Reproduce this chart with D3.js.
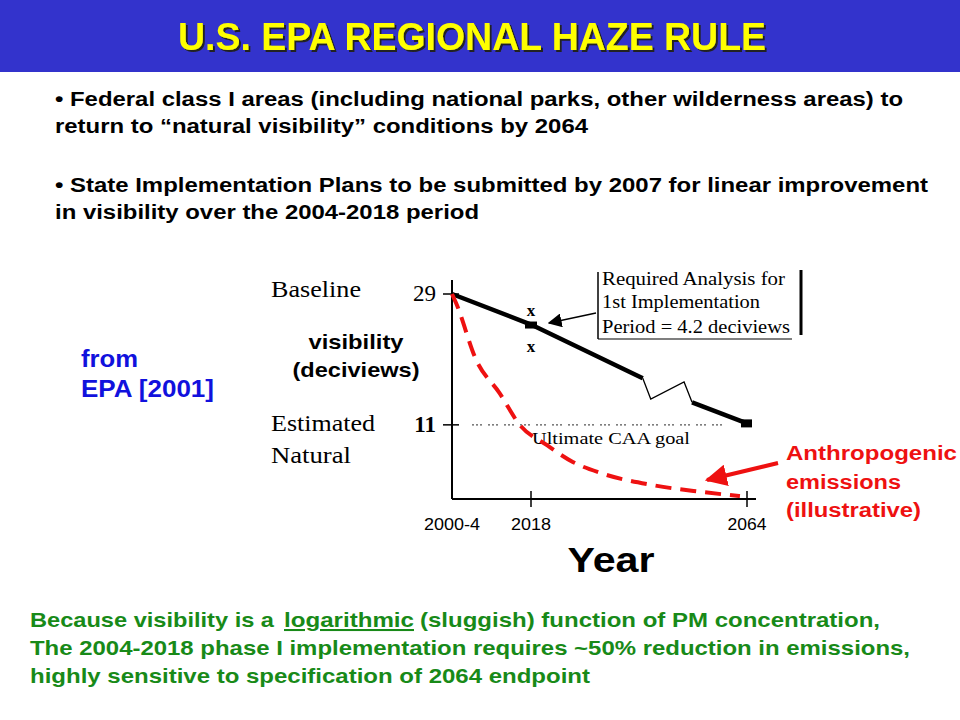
<!DOCTYPE html>
<html>
<head>
<meta charset="utf-8">
<script src="https://cdn.jsdelivr.net/npm/d3@7"></script>
<style>
  body { margin: 0; background: #fff; }
  svg { display: block; }
</style>
</head>
<body>
<svg id="slide" width="960" height="720"></svg>
<script>
// data
const glideYears = [2004, 2018, 2041.8];
const glideDv = [29, 24.8, 17.4];
const zigYears = [2041.8, 2043.5, 2050.6, 2052.3];
const zigDv = [17.4, 14.55, 16.9, 14.1];
const tailYears = [2052.3, 2064];
const tailDv = [14.1, 11.2];
const emisYears = [2004, 2004.7, 2008.3, 2012.4, 2016, 2021.4, 2026.9, 2032.7, 2044, 2054, 2062.5];
const emisDv = [29, 27.8, 19.9, 15.4, 11, 8.2, 5.9, 4.4, 2.7, 1.8, 1.2];
const yTicks = [29, 11];
const xTicks = [2018, 2064];
const xLabelYears = [2004, 2018, 2064];
const xTickLabels = ["2000-4", "2018", "2064"];
const goalDv = 11;

const svg = d3.select("#slide");
const sans = "Liberation Sans, Arial, sans-serif";
const serif = "Liberation Serif, Times New Roman, serif";

const defs = svg.append("defs");
const shadow = defs.append("filter").attr("id", "shadow").attr("x", "-5%").attr("y", "-20%").attr("width", "110%").attr("height", "150%");
shadow.append("feDropShadow").attr("dx", 2).attr("dy", 2).attr("stdDeviation", 0.6).attr("flood-color", "#222");

// header band
svg.append("rect").attr("x", 0).attr("y", 0).attr("width", 960).attr("height", 72).attr("fill", "#3333cc");
svg.append("text").attr("x", 472).attr("y", 50).attr("text-anchor", "middle")
  .attr("font-family", "Liberation Sans Narrow, " + sans).attr("font-weight", "bold")
  .attr("font-size", 38).attr("fill", "#ffff00").attr("textLength", 588).attr("lengthAdjust", "spacingAndGlyphs")
  .attr("filter", "url(#shadow)")
  .text("U.S. EPA REGIONAL HAZE RULE");

// bullets
const bullets = [
  ["• Federal class I areas (including national parks, other wilderness areas) to", 106, 848],
  ["return to \u201cnatural visibility\u201d conditions by 2064", 133, 533],
  ["• State Implementation Plans to be submitted by 2007 for linear improvement", 192, 873],
  ["in visibility over the 2004-2018 period", 219, 424]
];
svg.selectAll("text.bullet").data(bullets).join("text")
  .attr("class", "bullet")
  .attr("x", 55).attr("y", d => d[1])
  .attr("font-family", sans).attr("font-weight", "bold").attr("font-size", 19.5)
  .attr("textLength", d => d[2]).attr("lengthAdjust", "spacingAndGlyphs")
  .text(d => d[0]);

// scales (the figure's year axis is schematic, so piecewise)
const x = d3.scaleLinear().domain([2004, 2018, 2064]).range([452, 531, 747]);
const y = d3.scaleLinear().domain([0.8, 29]).range([499, 294]);

const g = svg.append("g");

// axes
g.append("line").attr("x1", 452).attr("x2", 452).attr("y1", 280).attr("y2", y(0.8))
  .attr("stroke", "#000").attr("stroke-width", 2);
g.append("line").attr("x1", 452).attr("x2", 756).attr("y1", y(0.8)).attr("y2", y(0.8))
  .attr("stroke", "#000").attr("stroke-width", 2);

g.selectAll("line.ytick").data(yTicks).join("line")
  .attr("x1", 443).attr("x2", 459).attr("y1", d => y(d)).attr("y2", d => y(d))
  .attr("stroke", "#000").attr("stroke-width", 1.5);
g.selectAll("text.ytick").data(yTicks).join("text")
  .attr("x", 436).attr("y", d => y(d) + 7).attr("text-anchor", "end")
  .attr("font-family", serif).attr("font-size", 23).attr("font-weight", (d, i) => i ? "bold" : "normal")
  .text(d => d);

g.selectAll("line.xtick").data(xTicks).join("line")
  .attr("x1", d => x(d)).attr("x2", d => x(d)).attr("y1", y(0.8) - 8).attr("y2", y(0.8) + 8)
  .attr("stroke", "#000").attr("stroke-width", 1.5);
g.selectAll("text.xtick").data(xLabelYears).join("text")
  .attr("x", d => x(d)).attr("y", 530).attr("text-anchor", "middle")
  .attr("font-family", sans).attr("font-size", 17)
  .attr("textLength", (d, i) => [56, 40, 39][i]).attr("lengthAdjust", "spacingAndGlyphs")
  .text((d, i) => xTickLabels[i]);

g.append("text").attr("x", 611).attr("y", 572).attr("text-anchor", "middle")
  .attr("font-family", sans).attr("font-weight", "bold").attr("font-size", 35)
  .attr("textLength", 87).attr("lengthAdjust", "spacingAndGlyphs")
  .text("Year");

// left labels
const sideLabels = [["Baseline", 297, 90], ["Estimated", 431, 104], ["Natural", 463, 80]];
g.selectAll("text.side").data(sideLabels).join("text")
  .attr("x", 271).attr("y", d => d[1])
  .attr("font-family", serif).attr("font-size", 23)
  .attr("textLength", d => d[2]).attr("lengthAdjust", "spacingAndGlyphs")
  .text(d => d[0]);

g.selectAll("text.ylab").data([["visibility", 95], ["(deciviews)", 127]]).join("text")
  .attr("x", 356).attr("y", (d, i) => 349 + i * 28).attr("text-anchor", "middle")
  .attr("font-family", sans).attr("font-weight", "bold").attr("font-size", 21)
  .attr("textLength", d => d[1]).attr("lengthAdjust", "spacingAndGlyphs")
  .text(d => d[0]);

// natural goal dotted line
g.append("line").attr("x1", 472).attr("x2", 727).attr("y1", y(goalDv)).attr("y2", y(goalDv))
  .attr("stroke", "#555").attr("stroke-width", 1.2).attr("stroke-dasharray", "2,2,2,2,2,6");
g.append("text").attr("x", 532).attr("y", 444)
  .attr("font-family", serif).attr("font-size", 16)
  .attr("textLength", 158).attr("lengthAdjust", "spacingAndGlyphs")
  .text("Ultimate CAA goal");

// glide path
const line = d3.line().x(d => x(d[0])).y(d => y(d[1]));
g.append("path").datum(d3.zip(glideYears, glideDv)).attr("d", line)
  .attr("fill", "none").attr("stroke", "#000").attr("stroke-width", 4.5);
g.append("path").datum(d3.zip(zigYears, zigDv)).attr("d", line)
  .attr("fill", "none").attr("stroke", "#000").attr("stroke-width", 1.3);
g.append("path").datum(d3.zip(tailYears, tailDv)).attr("d", line)
  .attr("fill", "none").attr("stroke", "#000").attr("stroke-width", 4.5);

// markers
g.append("rect").attr("x", x(2018) - 6).attr("y", y(24.8) - 3).attr("width", 12).attr("height", 7).attr("fill", "#000");
g.append("rect").attr("x", x(2064) - 6).attr("y", y(11.2) - 4).attr("width", 11).attr("height", 8).attr("fill", "#000");
g.selectAll("text.xmark").data([-9, 27]).join("text")
  .attr("x", x(2018)).attr("y", d => y(24.8) + d).attr("text-anchor", "middle")
  .attr("font-family", serif).attr("font-weight", "bold").attr("font-size", 17).text("x");

// emissions curve
g.append("path").datum(d3.zip(emisYears, emisDv))
  .attr("d", d3.line().curve(d3.curveMonotoneX).x(d => x(d[0])).y(d => y(d[1])))
  .attr("fill", "none").attr("stroke", "#ee1111").attr("stroke-width", 4)
  .attr("stroke-dasharray", "16,9");

// arrowheads
function marker(id, color, w) {
  defs.append("marker").attr("id", id).attr("viewBox", "0 0 10 10").attr("refX", 9).attr("refY", 5)
    .attr("markerWidth", w).attr("markerHeight", w).attr("markerUnits", "userSpaceOnUse").attr("orient", "auto")
    .append("path").attr("d", "M0,0 L10,5 L0,10 Z").attr("fill", color);
}
marker("ab", "#000", 14);
marker("ar", "#ee1111", 22);

// callout box
const box = g.append("g");
box.append("line").attr("x1", 598).attr("x2", 598).attr("y1", 272).attr("y2", 339).attr("stroke", "#000").attr("stroke-width", 1.5);
box.append("line").attr("x1", 598).attr("x2", 792).attr("y1", 339).attr("y2", 339).attr("stroke", "#000").attr("stroke-width", 1.2);
box.append("line").attr("x1", 801).attr("x2", 801).attr("y1", 270).attr("y2", 335).attr("stroke", "#000").attr("stroke-width", 3);
box.selectAll("text").data([["Required Analysis for", 285, 183], ["1st Implementation", 308, 158], ["Period = 4.2 deciviews", 333, 188]]).join("text")
  .attr("x", 602).attr("y", d => d[1])
  .attr("font-family", serif).attr("font-size", 18)
  .attr("textLength", d => d[2]).attr("lengthAdjust", "spacingAndGlyphs")
  .text(d => d[0]);
g.append("line").attr("x1", 596).attr("y1", 313).attr("x2", 549).attr("y2", 323)
  .attr("stroke", "#000").attr("stroke-width", 1.3).attr("marker-end", "url(#ab)");

// red annotation
g.append("line").attr("x1", 778).attr("y1", 463).attr("x2", 707).attr("y2", 480)
  .attr("stroke", "#ee1111").attr("stroke-width", 4).attr("marker-end", "url(#ar)");
svg.selectAll("text.anth").data([["Anthropogenic", 460, 171], ["emissions", 489, 115], ["(illustrative)", 517, 135]]).join("text")
  .attr("class", "anth").attr("x", 786).attr("y", d => d[1])
  .attr("font-family", sans).attr("font-weight", "bold").attr("font-size", 20)
  .attr("textLength", d => d[2]).attr("lengthAdjust", "spacingAndGlyphs")
  .attr("fill", "#ee1111").text(d => d[0]);

// source
svg.selectAll("text.src").data([["from", 367, 57], ["EPA [2001]", 397, 133]]).join("text")
  .attr("class", "src").attr("x", 81).attr("y", d => d[1])
  .attr("font-family", sans).attr("font-weight", "bold").attr("font-size", 23)
  .attr("textLength", d => d[2]).attr("lengthAdjust", "spacingAndGlyphs")
  .attr("fill", "#1111dd").text(d => d[0]);

// bottom note
const green = "#188a18";
const noteParts = [
  ["Because visibility is a", 30, 627, 244, false],
  ["logarithmic", 284, 627, 130, true],
  ["(sluggish) function of PM concentration,", 420, 627, 460, false],
  ["The 2004-2018  phase I implementation requires ~50% reduction in emissions,", 30, 655, 880, false],
  ["highly sensitive to specification of 2064 endpoint", 30, 683, 560, false]
];
svg.selectAll("text.note").data(noteParts).join("text")
  .attr("class", "note").attr("x", d => d[1]).attr("y", d => d[2])
  .attr("font-family", sans).attr("font-weight", "bold").attr("font-size", 20.5).attr("fill", green)
  .attr("textLength", d => d[3]).attr("lengthAdjust", "spacingAndGlyphs")
  .attr("text-decoration", d => d[4] ? "underline" : null)
  .text(d => d[0]);
</script>
</body>
</html>
